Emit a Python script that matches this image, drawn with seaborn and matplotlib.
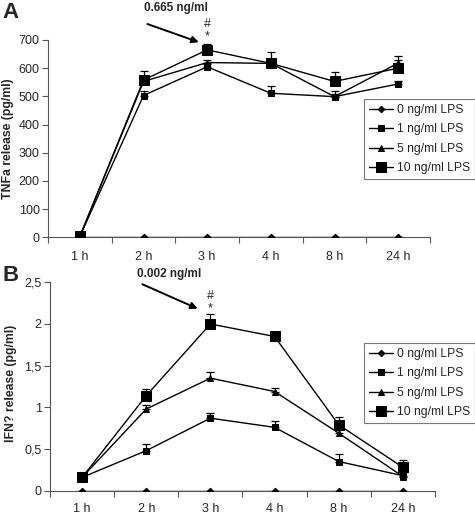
import matplotlib
matplotlib.use("Agg")
import matplotlib.pyplot as plt
import seaborn as sns
import pandas as pd
import numpy as np

sns.set_style("white")
plt.rcParams['font.family'] = ['Liberation Sans', 'DejaVu Sans']

times = ["1 h", "2 h", "3 h", "4 h", "8 h", "24 h"]
series = ["0 ng/ml LPS", "1 ng/ml LPS", "5 ng/ml LPS", "10 ng/ml LPS"]

tnf_0 = [0, 0, 0, 0, 0, 0]
tnf_1 = [3, 503, 605, 511, 499, 544]
tnf_5 = [3, 553, 620, 617, 499, 618]
tnf_10 = [3, 558, 665, 617, 553, 600]
tnf_err_0 = [0, 0, 0, 0, 0, 0]
tnf_err_1 = [0, 17, 10, 26, 20, 10]
tnf_err_5 = [0, 10, 10, 10, 10, 12]
tnf_err_10 = [0, 32, 20, 40, 35, 45]

ifn_0 = [0, 0, 0, 0, 0, 0]
ifn_1 = [0.16, 0.48, 0.87, 0.76, 0.35, 0.18]
ifn_5 = [0.16, 0.98, 1.35, 1.19, 0.69, 0.17]
ifn_10 = [0.16, 1.14, 2.0, 1.85, 0.79, 0.28]
ifn_err_0 = [0, 0, 0, 0, 0, 0]
ifn_err_1 = [0, 0.08, 0.06, 0.08, 0.09, 0.08]
ifn_err_5 = [0, 0.05, 0.07, 0.04, 0.07, 0.05]
ifn_err_10 = [0, 0.08, 0.12, 0.05, 0.09, 0.09]

markers = {"0 ng/ml LPS": "D", "1 ng/ml LPS": "s", "5 ng/ml LPS": "^", "10 ng/ml LPS": "s"}
msizes = {"0 ng/ml LPS": 3.3, "1 ng/ml LPS": 4.0, "5 ng/ml LPS": 5, "10 ng/ml LPS": 7.2}

FS = 9

fig = plt.figure(figsize=(4.75, 5.15), dpi=100)
W, H = 475, 515
axA = fig.add_axes([48 / W, (H - 237.3) / H, (430 - 48) / W, 197.3 / H])
axB = fig.add_axes([50 / W, (H - 490.7) / H, (435 - 50) / W, 208.4 / H])


def draw(ax, vals, errs, ylim, yticks, yticklabels, ylabel, leg_anchor, xpad, ylab_pos):
    x = np.arange(len(times))
    for name, v, e in zip(series, vals, errs):
        df = pd.DataFrame({"x": x, "y": v})
        sns.lineplot(data=df, x="x", y="y", ax=ax, color="black", lw=1.0,
                     marker=markers[name], markersize=msizes[name],
                     markeredgecolor="black", markerfacecolor="black",
                     label=name, zorder=3)
        e = np.array(e)
        ax.errorbar(x, v, yerr=[np.zeros_like(e), e], fmt="none", ecolor="black",
                    elinewidth=0.9, capsize=3, capthick=0.9, zorder=2)
    ax.set_xlim(-0.5, len(times) - 0.5)
    ax.set_ylim(*ylim)
    ax.set_xticks(x)
    ax.set_xticklabels(times, fontsize=FS)
    ax.set_xticks(np.arange(-0.5, len(times)), minor=True)
    ax.tick_params(axis="x", which="major", length=0, pad=xpad)
    ax.tick_params(axis="x", which="minor", length=4, width=0.8, color="#555555", direction="out", bottom=True)
    ax.set_yticks(yticks)
    ax.set_yticklabels(yticklabels, fontsize=FS)
    ax.tick_params(axis="y", length=4, width=0.8, color="#555555", direction="out", left=True, pad=2)
    ax.set_xlabel("")
    ax.set_ylabel(ylabel, fontsize=8.8, fontweight="bold")
    ax.yaxis.set_label_coords(*ylab_pos)
    for s in ["top", "right"]:
        ax.spines[s].set_visible(False)
    for s in ["left", "bottom"]:
        ax.spines[s].set_color("#555555")
        ax.spines[s].set_linewidth(0.8)
    leg = ax.legend(loc="upper left", bbox_to_anchor=leg_anchor, fontsize=FS * 0.97,
                    frameon=True, fancybox=False, edgecolor="#555555", handlelength=2.0,
                    handletextpad=0.35, borderpad=0.4, labelspacing=0.62, borderaxespad=0)
    leg.get_frame().set_linewidth(0.8)


draw(axA, [tnf_0, tnf_1, tnf_5, tnf_10], [tnf_err_0, tnf_err_1, tnf_err_5, tnf_err_10],
     (0, 700), [0, 100, 200, 300, 400, 500, 600, 700],
     ["0", "100", "200", "300", "400", "500", "600", "700"], "TNFa release (pg/ml)",
     ((364 - 48) / 382, (237.3 - 99) / 197.3), 9.7, (-0.09, 0.5))
draw(axB, [ifn_0, ifn_1, ifn_5, ifn_10], [ifn_err_0, ifn_err_1, ifn_err_5, ifn_err_10],
     (0, 2.5), [0, 0.5, 1, 1.5, 2, 2.5],
     ["0", "0,5", "1", "1,5", "2", "2,5"], "IFN? release (pg/ml)",
     ((364 - 50) / 385, (490.7 - 343) / 208.4), 8.5, (-0.087, 0.517))

# panel letters
fig.text(2 / W, 1 - 13 / H, "A", fontsize=16, fontweight="bold", va="center", ha="left")
fig.text(2 / W, 1 - 275.5 / H, "B", fontsize=16, fontweight="bold", va="center", ha="left")

# annotations A
axA.annotate("", xy=(1.91, 689), xytext=(1.02, 760),
             arrowprops=dict(arrowstyle="-|>", color="black", lw=1.4, mutation_scale=10),
             annotation_clip=False)
axA.text(1.51, 814, "0.665 ng/ml", fontsize=8.5, fontweight="bold", ha="center", va="center")
axA.text(2, 756, "#", fontsize=FS, ha="center", va="center")
axA.text(2, 712, "*", fontsize=FS, ha="center", va="center")

# annotations B
axB.annotate("", xy=(1.84, 2.17), xytext=(0.9, 2.49),
             arrowprops=dict(arrowstyle="-|>", color="black", lw=1.4, mutation_scale=10),
             annotation_clip=False)
axB.text(1.36, 2.6, "0.002 ng/ml", fontsize=8.5, fontweight="bold", ha="center", va="center")
axB.text(2, 2.34, "#", fontsize=FS, ha="center", va="center")
axB.text(2, 2.19, "*", fontsize=FS, ha="center", va="center")

fig.savefig("out.png", dpi=100)
